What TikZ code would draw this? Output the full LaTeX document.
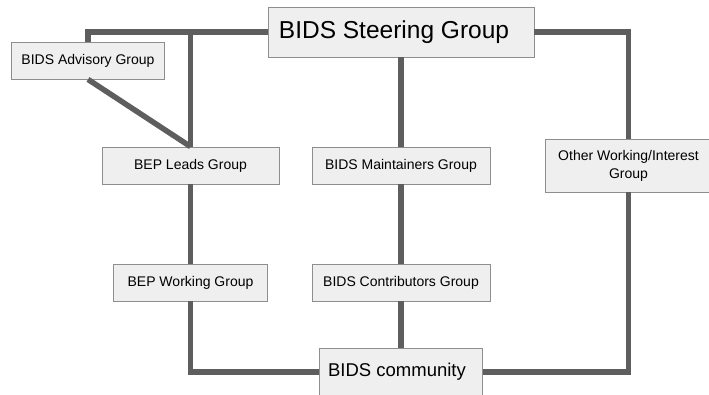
\documentclass[tikz,border=0pt]{standalone}
\usepackage{fontspec}
\setmainfont{Liberation Sans}
\definecolor{linkgray}{HTML}{5E5E5E}
\definecolor{boxfill}{HTML}{EFEFEF}
\definecolor{boxline}{HTML}{8E8E8E}
\tikzset{
	grp/.style={draw=boxline, fill=boxfill, line width=0.8pt, inner sep=0pt, align=center, font=\fontsize{14}{15.5}\selectfont},
	link/.style={draw=linkgray, line width=5.5pt}
}
\begin{document}
\begin{tikzpicture}[x=1pt,y=-1pt]
		\useasboundingbox (0,0) rectangle (709,394);
		%\draw[gray!50, thin, step=20] (0,0) grid (709,394);
		\node[grp, minimum width=266, minimum height=50, font=\fontsize{24.5}{26}\selectfont] (steer) at (401,32) {BIDS Steering Group\hspace{14pt}};
		\node[grp, minimum width=153, minimum height=37] (adv) at (88,60.5) {BIDS Advisory Group};
		\node[grp, minimum width=177, minimum height=37] (leads) at (190.5,165.5) {BEP Leads Group};
		\node[grp, minimum width=178, minimum height=37] (maint) at (401,165.5) {BIDS Maintainers Group};
		\node[grp, minimum width=166, minimum height=53, font=\fontsize{14}{18}\selectfont] (other) at (628.5,165.5) {Other Working/Interest\\Group};
		\node[grp, minimum width=154, minimum height=37] (bepwg) at (190.5,282.5) {BEP Working Group};
		\node[grp, minimum width=178, minimum height=37] (contrib) at (401,282.5) {BIDS Contributors Group};
		\node[grp, minimum width=163, minimum height=47, font=\fontsize{18.5}{20}\selectfont] (comm) at (401,372) {BIDS community\hspace{8pt}};
		
		\draw[link] (steer.west) -| (adv.north);
		\draw[link] (leads.north) -- (leads.north |- steer.west);
		\draw[link] (adv.south) -- (leads.north);
		\draw[link] (steer.east) -| (other.north);
		\draw[link] (steer.south) -- (maint.north);
		\draw[link] (maint.south) -- (contrib.north);
		\draw[link] (contrib.south) -- (comm.north);
		\draw[link] (leads.south) -- (bepwg.north);
		\draw[link] (bepwg.south) |- (comm.west);
		\draw[link] (comm.east) -| (other.south);
		\end{tikzpicture}
\end{document}
